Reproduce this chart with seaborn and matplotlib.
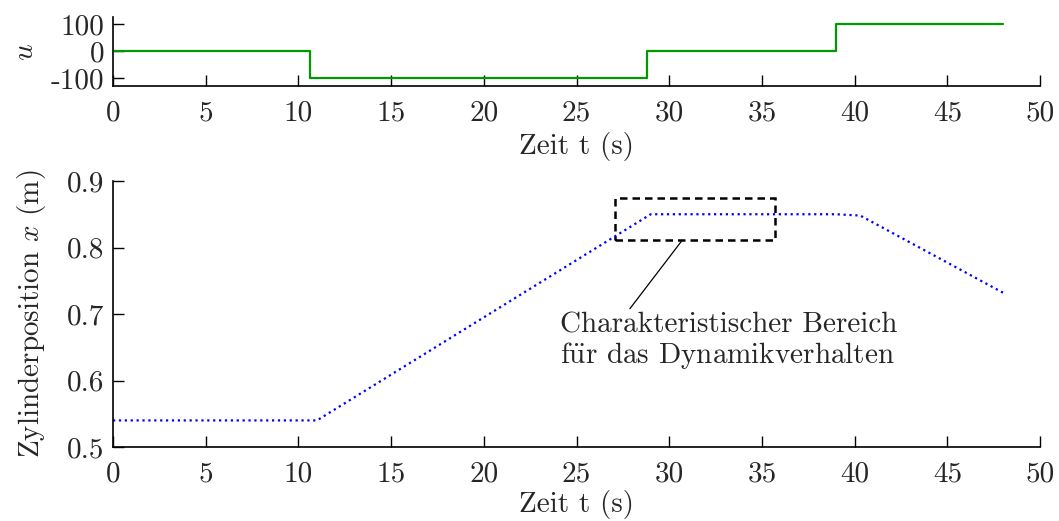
import numpy as np
import pandas as pd
import matplotlib
matplotlib.use('Agg')
import matplotlib.pyplot as plt
import seaborn as sb
from matplotlib.patches import Rectangle

# data
t_u = [0, 10.6, 28.8, 39.0, 48.0]
u_val = [0, -100, 0, 100, 100]

t_x = [0, 11.0, 29.0, 39.0, 40.3, 48.0]
x_val = [0.54, 0.54, 0.85, 0.85, 0.848, 0.732]

xticks = [0, 5, 10, 15, 20, 25, 30, 35, 40, 45, 50]
u_ticks = [-100, 0, 100]
u_labels = ['-100', '0', '100']
x_ticks = [0.5, 0.6, 0.7, 0.8, 0.9]
x_labels = ['0.5', '0.6', '0.7', '0.8', '0.9']

sb.set_style('ticks')
plt.rcParams['font.family'] = ['cmr10', 'DejaVu Serif']
plt.rcParams['mathtext.fontset'] = 'cm'
plt.rcParams['axes.unicode_minus'] = False
plt.rcParams['font.size'] = 21
plt.rcParams['xtick.labelsize'] = 21
plt.rcParams['ytick.labelsize'] = 21
plt.rcParams['axes.labelsize'] = 21

fig = plt.figure(figsize=(10.59, 5.21), dpi=100)
ax1 = fig.add_axes([0.1067, 0.835, 0.8755, 0.132])
ax2 = fig.add_axes([0.1067, 0.142, 0.8755, 0.5106])

df_u = pd.DataFrame({'t': t_u, 'u': u_val})
sb.lineplot(data=df_u, x='t', y='u', ax=ax1, color=(0, 0.6, 0), lw=1.6,
            drawstyle='steps-post', estimator=None)
ax1.set_xlim(0, 50)
ax1.set_ylim(-130, 126)
ax1.set_yticks(u_ticks)
ax1.set_yticklabels(u_labels)
ax1.set_xticks(xticks)
ax1.set_xticklabels([str(v) for v in xticks])
ax1.set_xlabel('Zeit t (s)', labelpad=4)
ax1.set_ylabel('$u$', labelpad=9)

df_x = pd.DataFrame({'t': t_x, 'x': x_val})
sb.lineplot(data=df_x, x='t', y='x', ax=ax2, color='blue', lw=1.6,
            linestyle=':', estimator=None)
ax2.set_xlim(0, 50)
ax2.set_ylim(0.5, 0.9)
ax2.set_yticks(x_ticks)
ax2.set_yticklabels(x_labels)
ax2.set_xticks(xticks)
ax2.set_xticklabels([str(v) for v in xticks])
ax2.set_xlabel('Zeit t (s)', labelpad=2)
ax2.set_ylabel('Zylinderposition $x$ (m)', labelpad=14)

# characteristic region box + annotation
ax2.add_patch(Rectangle((27.07, 0.811), 35.7 - 27.07, 0.874 - 0.811, fill=False,
                        ls=(0, (3, 2)), lw=1.8, ec='black'))
ax2.annotate('Charakteristischer Bereich\n' + r'f$\ddot{\mathrm{u}}$r das Dynamikverhalten',
             xy=(30.7, 0.811), xytext=(24.1, 0.703), ha='left', va='top',
             arrowprops=dict(arrowstyle='-', color='black', lw=0.9,
                             shrinkA=0, shrinkB=0, relpos=(0.2, 1.0)),
             linespacing=1.05)

for ax in (ax1, ax2):
    sb.despine(ax=ax)
    ax.tick_params(direction='in', length=8, width=1, color='black')
    ax.tick_params(axis='x', pad=10)
    ax.tick_params(axis='y', pad=6)
    for s in ax.spines.values():
        s.set_linewidth(1.2)
        s.set_color('black')

fig.savefig('out.png', dpi=100)
